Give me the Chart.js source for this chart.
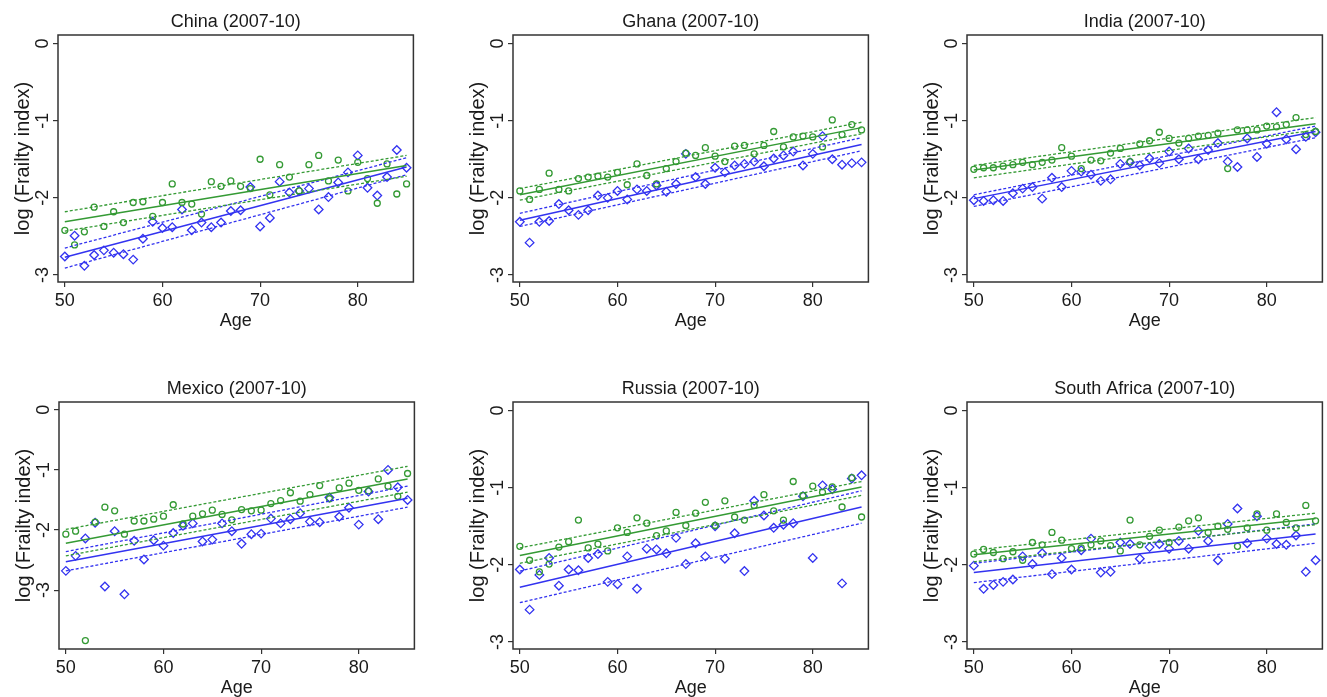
<!DOCTYPE html>
<html>
<head>
<meta charset="utf-8">
<title>Frailty index by age</title>
<script src="https://cdn.jsdelivr.net/npm/chart.js@4.4.1/dist/chart.umd.min.js"></script>
<style>
  body { margin: 0; background: #fff; width: 1327px; height: 697px; position: relative; overflow: hidden; }
  canvas { position: absolute; }
</style>
</head>
<body>
<script>
// ---------------- data ----------------
const ages = [50, 51, 52, 53, 54, 55, 56, 57, 58, 59, 60, 61, 62, 63, 64, 65, 66, 67,
              68, 69, 70, 71, 72, 73, 74, 75, 76, 77, 78, 79, 80, 81, 82, 83, 84, 85];
const lineAges = [50, 85];
const xTicks = [50, 60, 70, 80];
const yTicks = [0, -1, -2, -3];
const titles = ['China (2007-10)', 'Ghana (2007-10)', 'India (2007-10)',
                'Mexico (2007-10)', 'Russia (2007-10)', 'South Africa (2007-10)'];

// China
const chinaGreen = [-2.42, -2.61, -2.44, -2.12, -2.37, -2.18, -2.32, -2.06, -2.05, -2.24, -2.06, -1.82,
                    -2.06, -2.08, -2.21, -1.79, -1.85, -1.78, -1.85, -1.88, -1.50, -1.96, -1.57, -1.73,
                    -1.91, -1.57, -1.45, -1.78, -1.51, -1.91, -1.54, -1.75, -2.07, -1.56, -1.95, -1.82];
const chinaBlue = [-2.76, -2.49, -2.88, -2.74, -2.68, -2.71, -2.73, -2.80, -2.53, -2.31, -2.39, -2.38,
                   -2.15, -2.42, -2.32, -2.38, -2.32, -2.17, -2.16, -1.86, -2.37, -2.26, -1.79, -1.93,
                   -1.91, -1.88, -2.15, -1.99, -1.80, -1.67, -1.45, -1.87, -1.97, -1.73, -1.38, -1.61];
const chinaGreenFit = [-2.31, -1.58];
const chinaGreenLo = [-2.43, -1.72];
const chinaGreenHi = [-2.18, -1.45];
const chinaBlueFit = [-2.77, -1.60];
const chinaBlueLo = [-2.91, -1.70];
const chinaBlueHi = [-2.65, -1.48];

// Ghana
const ghanaGreen = [-1.91, -2.02, -1.89, -1.68, -1.89, -1.91, -1.75, -1.73, -1.72, -1.73, -1.67, -1.83,
                    -1.56, -1.71, -1.82, -1.62, -1.53, -1.42, -1.45, -1.35, -1.46, -1.53, -1.33, -1.32,
                    -1.43, -1.32, -1.14, -1.34, -1.21, -1.20, -1.21, -1.34, -0.99, -1.18, -1.05, -1.12];
const ghanaBlue = [-2.31, -2.58, -2.31, -2.30, -2.08, -2.16, -2.22, -2.16, -1.97, -2.00, -1.91, -2.02,
                   -1.89, -1.91, -1.84, -1.92, -1.82, -1.43, -1.73, -1.82, -1.61, -1.67, -1.58, -1.56,
                   -1.53, -1.59, -1.49, -1.45, -1.40, -1.58, -1.43, -1.20, -1.50, -1.57, -1.55, -1.54];
const ghanaGreenFit = [-1.96, -1.09];
const ghanaGreenLo = [-2.03, -1.17];
const ghanaGreenHi = [-1.88, -1.02];
const ghanaBlueFit = [-2.29, -1.31];
const ghanaBlueLo = [-2.37, -1.39];
const ghanaBlueHi = [-2.20, -1.22];

// India
const indiaGreen = [-1.63, -1.61, -1.61, -1.59, -1.57, -1.54, -1.57, -1.54, -1.51, -1.35, -1.46, -1.62,
                    -1.51, -1.52, -1.42, -1.36, -1.53, -1.30, -1.26, -1.15, -1.23, -1.29, -1.23, -1.20,
                    -1.19, -1.16, -1.62, -1.12, -1.12, -1.12, -1.07, -1.08, -1.05, -0.96, -1.18, -1.14];
const indiaBlue = [-2.03, -2.04, -2.03, -2.04, -1.94, -1.88, -1.86, -2.01, -1.74, -1.86, -1.65, -1.66,
                   -1.70, -1.78, -1.76, -1.56, -1.54, -1.58, -1.49, -1.55, -1.40, -1.50, -1.36, -1.50,
                   -1.38, -1.29, -1.53, -1.60, -1.23, -1.47, -1.30, -0.89, -1.24, -1.37, -1.21, -1.15];
const indiaGreenFit = [-1.64, -1.04];
const indiaGreenLo = [-1.74, -1.12];
const indiaGreenHi = [-1.58, -0.96];
const indiaBlueFit = [-2.01, -1.14];
const indiaBlueLo = [-2.11, -1.22];
const indiaBlueHi = [-1.96, -1.07];

// Mexico
const mexicoGreen = [-2.07, -2.02, -3.84, -1.87, -1.62, -1.68, -2.07, -1.85, -1.85, -1.82, -1.77, -1.58,
                     -1.90, -1.77, -1.73, -1.67, -1.74, -1.83, -1.66, -1.68, -1.67, -1.56, -1.51, -1.38,
                     -1.52, -1.41, -1.26, -1.48, -1.30, -1.22, -1.34, -1.35, -1.15, -1.27, -1.44, -1.06];
const mexicoBlue = [-2.68, -2.43, -2.14, -1.88, -2.94, -2.02, -3.07, -2.18, -2.49, -2.17, -2.26, -2.05,
                    -1.93, -1.89, -2.19, -2.16, -1.89, -2.02, -2.23, -2.07, -2.06, -1.81, -1.89, -1.82,
                    -1.72, -1.86, -1.87, -1.46, -1.78, -1.63, -1.91, -1.36, -1.82, -1.00, -1.29, -1.50];
const mexicoGreenFit = [-2.22, -1.15];
const mexicoGreenLo = [-2.43, -1.37];
const mexicoGreenHi = [-1.99, -0.94];
const mexicoBlueFit = [-2.53, -1.47];
const mexicoBlueLo = [-2.68, -1.62];
const mexicoBlueHi = [-2.36, -1.27];

// Russia
const russiaGreen = [-1.76, -1.94, -2.09, -1.99, -1.77, -1.70, -1.42, -1.78, -1.73, -1.82, -1.52, -1.58,
                     -1.39, -1.46, -1.62, -1.56, -1.32, -1.49, -1.33, -1.19, -1.49, -1.17, -1.38, -1.42,
                     -1.23, -1.09, -1.30, -1.42, -0.92, -1.10, -0.98, -1.06, -0.99, -1.25, -0.87, -1.38];
const russiaBlue = [-2.06, -2.58, -2.13, -1.91, -2.27, -2.06, -2.07, -1.91, -1.86, -2.22, -2.25, -1.89,
                    -2.31, -1.79, -1.80, -1.85, -1.65, -1.99, -1.72, -1.89, -1.50, -1.92, -1.59, -2.08,
                    -1.17, -1.36, -1.52, -1.48, -1.46, -1.11, -1.91, -0.97, -1.02, -2.24, -0.88, -0.84];
const russiaGreenFit = [-1.88, -0.99];
const russiaGreenLo = [-1.98, -1.10];
const russiaGreenHi = [-1.78, -0.92];
const russiaBlueFit = [-2.29, -1.25];
const russiaBlueLo = [-2.49, -1.46];
const russiaBlueHi = [-2.08, -1.04];

// South Africa
const safricaGreen = [-1.86, -1.80, -1.84, -1.92, -1.83, -1.94, -1.71, -1.74, -1.58, -1.68, -1.79, -1.78,
                      -1.74, -1.69, -1.75, -1.82, -1.42, -1.74, -1.63, -1.55, -1.71, -1.51, -1.43, -1.39,
                      -1.58, -1.50, -1.54, -1.76, -1.52, -1.34, -1.55, -1.34, -1.45, -1.52, -1.23, -1.43];
const safricaBlue = [-2.01, -2.31, -2.26, -2.22, -2.19, -1.89, -1.99, -1.85, -2.12, -1.91, -2.06, -1.81,
                     -1.66, -2.10, -2.09, -1.71, -1.73, -1.92, -1.77, -1.73, -1.79, -1.69, -1.79, -1.56,
                     -1.69, -1.94, -1.47, -1.27, -1.72, -1.37, -1.66, -1.73, -1.74, -1.62, -2.09, -1.94];
const safricaGreenFit = [-1.87, -1.40];
const safricaGreenLo = [-1.96, -1.48];
const safricaGreenHi = [-1.81, -1.33];
const safricaBlueFit = [-2.10, -1.60];
const safricaBlueLo = [-2.23, -1.72];
const safricaBlueHi = [-1.98, -1.47];

// ---------------- look ----------------
const GREEN = '#349a34';
const BLUE = '#3333f0';
const INK = '#1a1a1a';

Chart.defaults.font.family = '"Liberation Sans", Arial, Helvetica, sans-serif';
Chart.defaults.color = INK;

// canvas placement: plot area starts 58px right / 35px below canvas corner
const panels = [
  { title: titles[0], left: 0,   top: 0,   yMin: -3.09, yMax: 0.11,
    green: chinaGreen, blue: chinaBlue, gFit: chinaGreenFit, gLo: chinaGreenLo, gHi: chinaGreenHi,
    bFit: chinaBlueFit, bLo: chinaBlueLo, bHi: chinaBlueHi },
  { title: titles[1], left: 455, top: 0,   yMin: -3.09, yMax: 0.11,
    green: ghanaGreen, blue: ghanaBlue, gFit: ghanaGreenFit, gLo: ghanaGreenLo, gHi: ghanaGreenHi,
    bFit: ghanaBlueFit, bLo: ghanaBlueLo, bHi: ghanaBlueHi },
  { title: titles[2], left: 909, top: 0,   yMin: -3.09, yMax: 0.11,
    green: indiaGreen, blue: indiaBlue, gFit: indiaGreenFit, gLo: indiaGreenLo, gHi: indiaGreenHi,
    bFit: indiaBlueFit, bLo: indiaBlueLo, bHi: indiaBlueHi },
  { title: titles[3], left: 1,   top: 367, yMin: -3.98, yMax: 0.13,
    green: mexicoGreen, blue: mexicoBlue, gFit: mexicoGreenFit, gLo: mexicoGreenLo, gHi: mexicoGreenHi,
    bFit: mexicoBlueFit, bLo: mexicoBlueLo, bHi: mexicoBlueHi },
  { title: titles[4], left: 455, top: 367, yMin: -3.09, yMax: 0.11,
    green: russiaGreen, blue: russiaBlue, gFit: russiaGreenFit, gLo: russiaGreenLo, gHi: russiaGreenHi,
    bFit: russiaBlueFit, bLo: russiaBlueLo, bHi: russiaBlueHi },
  { title: titles[5], left: 909, top: 367, yMin: -3.09, yMax: 0.11,
    green: safricaGreen, blue: safricaBlue, gFit: safricaGreenFit, gLo: safricaGreenLo, gHi: safricaGreenHi,
    bFit: safricaBlueFit, bLo: safricaBlueLo, bHi: safricaBlueHi }
];

const pts = (xs, ys) => xs.map((x, i) => ({ x: x, y: ys[i] }));

function lineSet(ys, color, dashed) {
  return {
    data: pts(lineAges, ys), showLine: true, borderColor: color,
    borderWidth: dashed ? 1.3 : 1.5, borderDash: dashed ? [3, 2] : [],
    pointRadius: 0, fill: false
  };
}

function markSet(ys, color, style, r) {
  return {
    data: pts(ages, ys), showLine: false, pointStyle: style, pointRadius: r,
    borderColor: color, backgroundColor: 'rgba(0,0,0,0)', borderWidth: 1.3
  };
}

// plot region box (Stata-like frame)
const frame = {
  id: 'frame',
  afterDraw(chart) {
    const a = chart.chartArea, c = chart.ctx;
    c.save();
    c.strokeStyle = '#333';
    c.lineWidth = 1.5;
    c.strokeRect(a.left, a.top, a.right - a.left, a.bottom - a.top);
    c.restore();
  }
};

panels.forEach(p => {
  const cv = document.createElement('canvas');
  cv.width = 419;
  cv.height = 332;
  cv.style.left = p.left + 'px';
  cv.style.top = p.top + 'px';
  document.body.appendChild(cv);

  new Chart(cv, {
    type: 'scatter',
    data: {
      datasets: [
        lineSet(p.gFit, GREEN, false), lineSet(p.gLo, GREEN, true), lineSet(p.gHi, GREEN, true),
        lineSet(p.bFit, BLUE, false), lineSet(p.bLo, BLUE, true), lineSet(p.bHi, BLUE, true),
        markSet(p.green, GREEN, 'circle', 3),
        markSet(p.blue, BLUE, 'rectRot', 4.3)
      ]
    },
    options: {
      responsive: false,
      animation: false,
      events: [],
      layout: { padding: { left: 0, top: 0, right: 2, bottom: 0 } },
      plugins: {
        legend: { display: false },
        tooltip: { enabled: false },
        title: {
          display: true, text: p.title, fullSize: false, color: INK,
          font: { size: 18, weight: 'normal' },
          padding: { top: 11, bottom: 2.4 }
        }
      },
      scales: {
        x: {
          type: 'linear', min: 49.3, max: 85.7,
          afterBuildTicks: s => { s.ticks = xTicks.map(v => ({ value: v })); },
          afterFit: s => { s.height = 50; },
          border: { display: false },
          grid: { drawOnChartArea: false, drawTicks: true, tickLength: 5, color: '#333', lineWidth: 1.2 },
          ticks: { font: { size: 18 }, color: INK, padding: 3, maxRotation: 0, callback: v => String(v) },
          title: { display: true, text: 'Age', color: INK, font: { size: 18 }, padding: { top: 0, bottom: 0 } }
        },
        y: {
          type: 'linear', min: p.yMin, max: p.yMax,
          afterBuildTicks: s => { s.ticks = yTicks.map(v => ({ value: v })); },
          afterFit: s => { s.width = 58; },
          border: { display: false },
          grid: { drawOnChartArea: false, drawTicks: true, tickLength: 5, color: '#333', lineWidth: 1.2 },
          ticks: { font: { size: 18 }, color: INK, padding: 2, minRotation: 90, maxRotation: 90,
                   crossAlign: 'center', callback: v => String(v) },
          title: { display: true, text: 'log (Frailty index)', color: INK, font: { size: 20 },
                   padding: { top: 11, bottom: 0 } }
        }
      }
    },
    plugins: [frame]
  });
});
</script>
</body>
</html>
